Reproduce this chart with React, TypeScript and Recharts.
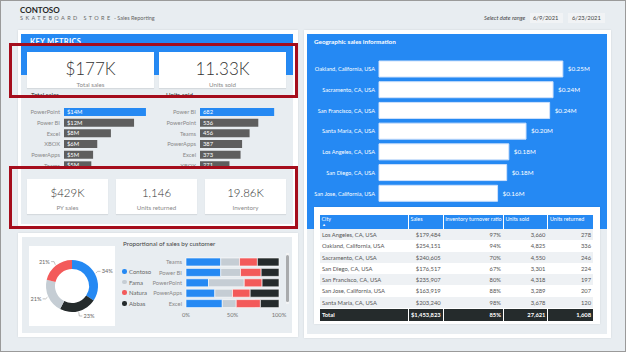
import { Bar, BarChart, Cell, LabelList, Pie, PieChart, XAxis, YAxis } from 'recharts'

const FONT = 'Lato, "Open Sans", sans-serif'
const BLUE = '#2589f3'
const DARK_BAR = '#5e5e5e'
const BG = '#e8edf1'
const RED = '#a50d1c'

// left panel – bars by product
const salesProducts = ['PowerPoint', 'Power BI', 'Excel', 'XBOX', 'PowerApps', 'Teams']
const salesMillions = [13.8, 11.8, 7.9, 5.6, 4.9, 4.6]
const unitProducts = ['Power BI', 'PowerPoint', 'Teams', 'PowerApps', 'Excel', 'XBOX']
const unitsByProduct = [682, 536, 456, 387, 373, 271]

const topKpiValues = ['$177K', '11.33K']
const topKpiLabels = ['Total sales', 'Units sold']
const bottomKpiValues = ['$429K', '1,146', '19.86K']
const bottomKpiLabels = ['PY sales', 'Units returned', 'Inventory']

// customers
const customers = ['Contoso', 'Fama', 'Natura', 'Abbas']
const customerColors = ['#2589f3', '#c5cdd4', '#f35a5a', '#252b2c']
const customerShare = [34, 21, 21, 23]
const pieOrder = ['Contoso', 'Abbas', 'Fama', 'Natura']

const stackProducts = ['Teams', 'Power BI', 'PowerPoint', 'PowerApps', 'Excel']
const contosoPct = [37, 37, 24, 31, 39]
const famaPct = [20, 21, 38, 19, 15]
const naturaPct = [19, 22, 19, 19, 26]
const abbasPct = [23, 19, 18, 31, 20]

// geography
const geoCities = [
  'Oakland, California, USA',
  'Sacramento, CA, USA',
  'San Francisco, CA, USA',
  'Santa Maria, CA, USA',
  'Los Angeles, CA, USA',
  'San Diego, CA, USA',
  'San Jose, California, USA',
]
const geoSales = [254151, 240605, 235907, 203240, 179484, 176517, 163919]

const tableCities = [
  'Los Angeles, CA, USA',
  'Oakland, California, USA',
  'Sacramento, CA, USA',
  'San Diego, CA, USA',
  'San Francisco, CA, USA',
  'San Jose, California, USA',
  'Santa Maria, CA, USA',
]
const tableSales = [179484, 254151, 240605, 176517, 235907, 163919, 203240]
const tableTurnover = [97, 94, 70, 67, 80, 88, 98]
const tableUnitsSold = [3660, 4825, 4550, 3301, 4318, 3289, 3678]
const tableUnitsReturned = [278, 336, 246, 224, 197, 207, 120]
const tableHeaders = ['City', 'Sales', 'Inventory turnover ratio', 'Units sold', 'Units returned']
const colWidths = [89, 34, 60, 44, 45]

const box = (left: number, top: number, width: number, height: number, extra: any = {}) => ({
  position: 'absolute' as const,
  left,
  top,
  width,
  height,
  ...extra,
})

const fmtInt = (v: number) => v.toLocaleString('en-US')

// plain tick so recharts doesn't wrap long category names
const plainTick = (fill: string, fontSize: number) => (p: any) => (
  <text x={p.x} y={p.y} dy="0.35em" textAnchor={p.textAnchor || 'end'} fontSize={fontSize} fill={fill} fontFamily={FONT}>
    {p.payload.value}
  </text>
)

const RADIAN = Math.PI / 180
const renderPieLabel = (props: any) => {
  const { cx, cy, midAngle, outerRadius, value } = props
  const cos = Math.cos(-midAngle * RADIAN)
  const sin = Math.sin(-midAngle * RADIAN)
  const sx = cx + (outerRadius + 1) * cos
  const sy = cy + (outerRadius + 1) * sin
  const mx = cx + (outerRadius + 3) * cos
  const my = cy + (outerRadius + 5) * sin
  const dir = cos >= 0 ? 1 : -1
  const ex = mx + dir * 3
  return (
    <g>
      <polyline points={`${sx},${sy} ${mx},${my} ${ex},${my}`} fill="none" stroke="#999" strokeWidth={0.6} />
      <text x={ex + dir * 1.2} y={my} dy="0.35em" textAnchor={dir > 0 ? 'start' : 'end'} fontSize={5.6} fill="#666" fontFamily={FONT}>
        {`${value}%`}
      </text>
    </g>
  )
}

const Kpi = ({ value, label, big }: { value: string; label: string; big?: boolean }) => (
  <div
    style={{
      width: '100%',
      height: '100%',
      background: '#fff',
      boxShadow: '0 1px 1px rgba(0,0,0,0.08)',
      textAlign: 'center',
      color: '#333',
    }}
  >
    <div style={{ fontSize: big ? 17 : 11.5, fontWeight: 300, lineHeight: 1, paddingTop: 8 }}>{value}</div>
    <div style={{ fontSize: 6.2, color: '#8a8a8a', marginTop: big ? 4 : 5 }}>{label}</div>
  </div>
)

const ProductBars = ({
  names,
  values,
  max,
  fmt,
  axisWidth,
  width,
}: {
  names: string[]
  values: number[]
  max: number
  fmt: (v: number) => string
  axisWidth: number
  width: number
}) => {
  const data = names.map((name, i) => ({ name, value: values[i] }))
  return (
    <BarChart width={width} height={64} data={data} layout="vertical" margin={{ top: 0, right: 0, bottom: 0, left: 0 }}>
      <XAxis type="number" domain={[0, max]} hide />
      <YAxis
        type="category"
        dataKey="name"
        width={axisWidth}
        tickLine={false}
        axisLine={false}
        tickSize={2}
        tickMargin={2}
        interval={0}
        tick={plainTick('#8a8a8a', 5.8)}
      />
      <Bar dataKey="value" barSize={8} isAnimationActive={false}>
        {data.map((d, i) => (
          <Cell key={d.name} fill={i === 0 ? BLUE : DARK_BAR} />
        ))}
        <LabelList dataKey="value" position="insideLeft" offset={3} fill="#fff" fontSize={5.8} formatter={(v: any) => fmt(Number(v))} />
      </Bar>
    </BarChart>
  )
}

export default function App() {
  const pieData = pieOrder.map((name) => {
    const i = customers.indexOf(name)
    return { name, value: customerShare[i], color: customerColors[i] }
  })
  const stackData = stackProducts.map((name, i) => ({
    name,
    Contoso: contosoPct[i],
    Fama: famaPct[i],
    Natura: naturaPct[i],
    Abbas: abbasPct[i],
  }))
  const geoData = geoCities.map((name, i) => ({ name, value: geoSales[i] }))

  const rows = tableCities.map((c, i) => [
    c,
    '$' + fmtInt(tableSales[i]),
    tableTurnover[i] + '%',
    fmtInt(tableUnitsSold[i]),
    fmtInt(tableUnitsReturned[i]),
  ])
  const totalSales = tableSales.reduce((a, b) => a + b, 0)
  const avgTurnover = Math.round(tableTurnover.reduce((a, b) => a + b, 0) / tableTurnover.length)
  const totalRow = [
    'Total',
    '$' + fmtInt(totalSales),
    avgTurnover + '%',
    fmtInt(tableUnitsSold.reduce((a, b) => a + b, 0)),
    fmtInt(tableUnitsReturned.reduce((a, b) => a + b, 0)),
  ]

  return (
    <div style={box(0, 0, 626, 352, { background: BG, overflow: 'hidden', fontFamily: FONT })}>
      {/* header */}
      <div style={box(20, 5, 120, 12, { fontSize: 8, fontWeight: 700, color: '#252525' })}>CONTOSO</div>
      <div style={box(20, 15, 200, 9, { fontSize: 5.5, color: '#666', whiteSpace: 'nowrap' })}>
        <span style={{ letterSpacing: 2.4 }}>SKATEBOARD STORE</span> - Sales Reporting
      </div>
      <div style={box(484, 14, 46, 9, { fontSize: 5.8, fontStyle: 'italic', color: '#444', whiteSpace: 'nowrap' })}>
        Select date range
      </div>
      <div style={box(530, 13, 33, 10, { background: '#f1f3f5', fontSize: 5.8, color: '#444', paddingLeft: 3, boxSizing: 'border-box', lineHeight: '10px' })}>
        6/9/2021
      </div>
      <div style={box(568, 13, 37, 10, { background: '#f1f3f5', fontSize: 5.8, color: '#444', paddingLeft: 4, boxSizing: 'border-box', lineHeight: '10px' })}>
        6/23/2021
      </div>

      {/* left key metrics panel */}
      <div style={box(18, 30, 280, 197, { background: '#fff', boxShadow: '0 0 2px rgba(0,0,0,0.1)' })} />
      <div style={box(21, 34, 272, 190, { background: BG })} />
      <div style={box(21, 34, 272, 41, { background: BLUE })} />
      <div style={box(30, 37, 100, 10, { fontSize: 7.5, fontWeight: 700, color: '#fff', letterSpacing: 0.3 })}>KEY METRICS</div>
      {topKpiValues.map((v, i) => (
        <div key={v} style={box(27 + i * 132, 52, 127, 36)}>
          <Kpi value={v} label={topKpiLabels[i]} big />
        </div>
      ))}
      <div style={box(31, 90.5, 60, 9, { fontSize: 6.2, color: '#333' })}>Total sales</div>
      <div style={box(166, 90.5, 60, 9, { fontSize: 6.2, color: '#333' })}>Units sold</div>
      <div style={box(22, 107, 137, 62, { overflow: 'hidden' })}>
        <ProductBars names={salesProducts} values={salesMillions} max={16} fmt={(v) => `$${Math.round(v)}M`} axisWidth={42} width={137} />
      </div>
      <div style={box(155, 107, 135, 62, { overflow: 'hidden' })}>
        <ProductBars names={unitProducts} values={unitsByProduct} max={800} fmt={(v) => String(v)} axisWidth={45} width={132} />
      </div>
      {bottomKpiValues.map((v, i) => (
        <div key={v} style={box(27 + i * 89, 179, 81, 35)}>
          <Kpi value={v} label={bottomKpiLabels[i]} />
        </div>
      ))}

      {/* bottom-left customers panel */}
      <div style={box(18, 233, 280, 104, { background: '#fff', boxShadow: '0 0 2px rgba(0,0,0,0.1)' })} />
      <div style={box(22, 237, 270, 96, { background: BG })} />
      <div style={box(29, 246, 86, 80, { background: '#fff' })}>
        <PieChart width={86} height={80} margin={{ top: 0, right: 0, bottom: 0, left: 0 }}>
          <Pie
            data={pieData}
            dataKey="value"
            nameKey="name"
            cx={43}
            cy={40}
            innerRadius={17}
            outerRadius={26}
            startAngle={90}
            endAngle={-270}
            stroke="none"
            label={renderPieLabel}
            labelLine={false}
            isAnimationActive={false}
          >
            {pieData.map((d) => (
              <Cell key={d.name} fill={d.color} />
            ))}
          </Pie>
        </PieChart>
      </div>
      {customers.map((c, i) => (
        <div key={c} style={box(122, 267 + i * 10.6, 50, 9, { fontSize: 6, color: '#666', display: 'flex', alignItems: 'center', whiteSpace: 'nowrap' })}>
          <span style={{ width: 4.5, height: 4.5, borderRadius: '50%', background: customerColors[i], marginRight: 2.5, display: 'inline-block' }} />
          {c}
        </div>
      ))}
      <div style={box(123, 240, 150, 9, { fontSize: 6.3, color: '#444', whiteSpace: 'nowrap' })}>Proportional of sales by customer</div>
      <div style={box(120, 257, 170, 68)}>
        <BarChart width={170} height={68} data={stackData} layout="vertical" stackOffset="expand" margin={{ top: 0, right: 11, bottom: 0, left: 0 }}>
          <XAxis
            type="number"
            domain={[0, 1]}
            ticks={[0, 0.5, 1]}
            tickFormatter={(v: number) => `${Math.round(v * 100)}%`}
            axisLine={false}
            tickLine={false}
            tickSize={2}
            height={16}
            tick={{ fontSize: 5.8, fill: '#777' }}
          />
          <YAxis
            type="category"
            dataKey="name"
            width={66}
            tickLine={false}
            axisLine={false}
            tickSize={2}
            tickMargin={2}
            interval={0}
            tick={plainTick('#888', 5.8)}
          />
          {customers.map((c, i) => (
            <Bar
              key={c}
              dataKey={c}
              stackId="s"
              barSize={8}
              fill={customerColors[i]}
              stroke="#fff"
              strokeWidth={0.6}
              isAnimationActive={false}
            />
          ))}
        </BarChart>
      </div>
      <div style={box(286, 253, 3, 51, { background: '#f3f4f5' })} />
      <div style={box(286, 255, 3, 47, { background: '#a9abad', borderRadius: 2 })} />

      {/* right geographic panel */}
      <div style={box(304, 30, 307, 308, { background: '#fff', boxShadow: '0 0 2px rgba(0,0,0,0.1)' })} />
      <div style={box(307, 34, 300, 300, { background: BG })} />
      <div style={box(307, 34, 300, 195, { background: BLUE })} />
      <div style={box(314, 38, 150, 9, { fontSize: 6.3, fontWeight: 700, color: '#fff', whiteSpace: 'nowrap' })}>
        Geographic sales information
      </div>
      <div style={box(307, 59, 300, 145)}>
        <BarChart width={300} height={145} data={geoData} layout="vertical" margin={{ top: 0, right: 11, bottom: 0, left: 0 }}>
          <XAxis type="number" domain={[0, 300000]} hide />
          <YAxis
            type="category"
            dataKey="name"
            width={72}
            tickLine={false}
            axisLine={false}
            tickSize={2}
            tickMargin={2}
            interval={0}
            tick={plainTick('#fff', 5.6)}
          />
          <Bar dataKey="value" barSize={16} fill="#fff" stroke="#cfe1fb" strokeWidth={1} isAnimationActive={false}>
            <LabelList
              dataKey="value"
              position="right"
              offset={5}
              fill="#fff"
              fontSize={6.3}
              formatter={(v: any) => `$${(Number(v) / 1e6).toFixed(2)}M`}
            />
          </Bar>
        </BarChart>
      </div>

      {/* table */}
      <div style={box(314, 207, 286, 117, { background: '#fff', boxShadow: '0 0 2px rgba(0,0,0,0.1)' })} />
      <div style={box(320, 215, 273, 106, { fontSize: 5.8, color: '#555' })}>
        <div style={{ display: 'flex', height: 14 }}>
          {tableHeaders.map((h, i) => (
            <div
              key={h}
              style={{
                width: colWidths[i],
                marginRight: i < 4 ? 1 : 0,
                background: BLUE,
                color: '#fff',
                padding: '1px 1.5px',
                fontSize: 5.4,
                boxSizing: 'border-box',
                whiteSpace: 'nowrap',
                overflow: 'hidden',
                position: 'relative',
              }}
            >
              {h}
              {i === 0 && <span style={{ position: 'absolute', left: 2, top: 7, fontSize: 4 }}>▲</span>}
            </div>
          ))}
        </div>
        {rows.map((r, ri) => (
          <div key={r[0]} style={{ display: 'flex', height: 11.3, background: ri % 2 === 0 ? '#eef1f4' : '#fff' }}>
            {r.map((cell, ci) => (
              <div
                key={ci}
                style={{
                  width: colWidths[ci],
                  marginRight: ci < 4 ? 1 : 0,
                  textAlign: ci === 0 ? 'left' : 'right',
                  padding: '0 2px',
                  boxSizing: 'border-box',
                  lineHeight: '11.3px',
                  whiteSpace: 'nowrap',
                  overflow: 'hidden',
                }}
              >
                {cell}
              </div>
            ))}
          </div>
        ))}
        <div style={{ display: 'flex', height: 12, marginTop: 1 }}>
          {totalRow.map((cell, ci) => (
            <div
              key={ci}
              style={{
                width: colWidths[ci],
                marginRight: ci < 4 ? 1 : 0,
                background: '#252b2c',
                color: '#fff',
                fontWeight: 700,
                textAlign: ci === 0 ? 'left' : 'right',
                padding: '0 2px',
                boxSizing: 'border-box',
                lineHeight: '12px',
                whiteSpace: 'nowrap',
              }}
            >
              {cell}
            </div>
          ))}
        </div>
      </div>

      {/* highlight boxes */}
      <div style={box(9, 43, 289, 55, { border: `3px solid ${RED}`, boxSizing: 'border-box' })} />
      <div style={box(9, 166, 289, 63, { border: `3px solid ${RED}`, boxSizing: 'border-box' })} />

      {/* frame */}
      <div style={box(0, 0, 626, 352, { border: '1px solid #9a9a9a', boxSizing: 'border-box', pointerEvents: 'none' })} />
    </div>
  )
}
